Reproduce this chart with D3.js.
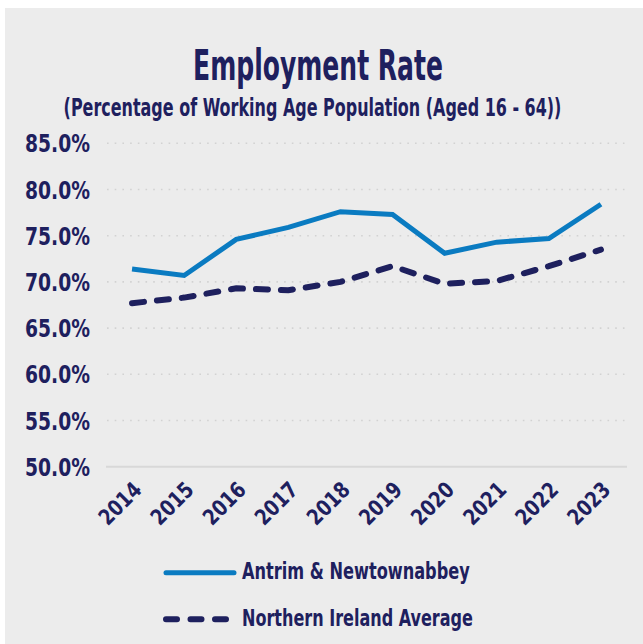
<!DOCTYPE html>
<html>
<head>
<meta charset="utf-8">
<script src="https://cdn.jsdelivr.net/npm/d3@7"></script>
<style>
  html, body { margin: 0; padding: 0; background: #ffffff; }
  svg { display: block; }
  text { font-family: "Liberation Sans Narrow", "DejaVu Sans Condensed", "Roboto", sans-serif; font-weight: bold; fill: #1e205e; }
</style>
</head>
<body>
<svg id="chart" width="643" height="644"></svg>
<script>
// Employment rate, working age population (16-64)
const years = ["2014", "2015", "2016", "2017", "2018", "2019", "2020", "2021", "2022", "2023"];
const antrimValues = [71.4, 70.7, 74.6, 75.9, 77.6, 77.3, 73.1, 74.3, 74.7, 78.4];
const niValues = [67.7, 68.3, 69.3, 69.1, 70.0, 71.7, 69.8, 70.1, 71.7, 73.5];
const yTicks = [50, 55, 60, 65, 70, 75, 80, 85];
const seriesNames = ["Antrim & Newtownabbey", "Northern Ireland Average"];

const W = 643, H = 644;
const navy = "#1e205e", blue = "#0a7bc1";
const fontStack = "\"Liberation Sans Narrow\", \"DejaVu Sans Condensed\", sans-serif";

const svg = d3.select("#chart");

// panel
svg.append("rect").attr("x", 5).attr("y", 8).attr("width", W - 5).attr("height", H - 8).attr("fill", "#ececec");

// horizontal squeeze factor so a text element spans width w
function squeeze(node, w) {
  const len = node.getComputedTextLength();
  return len > 0 ? w / len : 1;
}

// place a text at (x, y) and squeeze it to width w
function fitText(sel, x, y, w) {
  sel.attr("x", 0).attr("y", 0);
  const k = squeeze(sel.node(), w);
  sel.attr("transform", `translate(${x},${y}) scale(${k},1)`);
  return sel;
}

// titles
fitText(svg.append("text").attr("text-anchor", "middle")
  .style("font-size", "42px").text("Employment Rate"), 318, 80, 250);
fitText(svg.append("text").attr("text-anchor", "middle")
  .style("font-size", "25px").text("(Percentage of Working Age Population (Aged 16 - 64))"), 312.5, 116, 498);

const x = d3.scaleBand().domain(years).range([106, 627]).padding(0);
const y = d3.scaleLinear().domain([50, 85]).range([466.7, 143.3]);
const cx = d => x(d) + x.bandwidth() / 2;

// dotted gridlines
svg.append("g").selectAll("line").data(yTicks.filter(t => t > 50)).join("line")
  .attr("x1", 107).attr("x2", 627)
  .attr("y1", d => y(d)).attr("y2", d => y(d))
  .attr("stroke", "#d2d2d2").attr("stroke-width", 1.6).attr("stroke-dasharray", "1.6,6.1");

// baseline
svg.append("line").attr("x1", 106).attr("x2", 627).attr("y1", y(50)).attr("y2", y(50))
  .attr("stroke", "#d8d8d8").attr("stroke-width", 2);

// y axis labels
const yAxis = svg.append("g").attr("transform", "translate(90,0)")
  .call(d3.axisLeft(y).tickValues(yTicks).tickSize(0).tickPadding(0).tickFormat(d => d.toFixed(1) + "%"));
yAxis.select(".domain").remove();
yAxis.selectAll("text").style("font-size", "24px").style("font-family", fontStack).attr("fill", navy)
  .attr("x", 0).attr("dy", "0.36em")
  .each(function () {
    const k = squeeze(this, 65);
    d3.select(this).attr("transform", `scale(${k},1)`);
  });

// x axis labels (rotated)
const xAxis = svg.append("g").attr("transform", `translate(0,${y(50)})`)
  .call(d3.axisBottom(x).tickSize(0).tickPadding(0));
xAxis.select(".domain").remove();
xAxis.selectAll("text")
  .style("font-size", "22px").style("font-family", fontStack).attr("fill", navy)
  .attr("text-anchor", "end").attr("x", 0).attr("y", 0).attr("dy", 0)
  .each(function () {
    const k = squeeze(this, 50);
    d3.select(this).attr("transform", `translate(11,24.5) rotate(-45) scale(${k},1)`);
  });

const line = d3.line().x((d, i) => cx(years[i])).y(d => y(d));

svg.append("path").datum(niValues).attr("d", line)
  .attr("fill", "none").attr("stroke", navy).attr("stroke-width", 6)
  .attr("stroke-linecap", "round").attr("stroke-dasharray", "12,13");

svg.append("path").datum(antrimValues).attr("d", line)
  .attr("fill", "none").attr("stroke", blue).attr("stroke-width", 5)
  .attr("stroke-linejoin", "miter");

// legend
const legend = [
  { name: seriesNames[0], color: blue, dash: null, width: 5, y: 572.7, textW: 228 },
  { name: seriesNames[1], color: navy, dash: "11,13.5", width: 6, y: 619.3, textW: 231 }
];
const lg = svg.append("g");
legend.forEach(l => {
  const ln = lg.append("line").attr("x1", 166).attr("x2", 234).attr("y1", l.y).attr("y2", l.y)
    .attr("stroke", l.color).attr("stroke-width", l.width).attr("stroke-linecap", "round");
  if (l.dash) ln.attr("stroke-dasharray", l.dash);
  fitText(lg.append("text").attr("dy", "0.36em").style("font-size", "23px").text(l.name),
    242, l.y - 1.5, l.textW);
});
</script>
</body>
</html>
